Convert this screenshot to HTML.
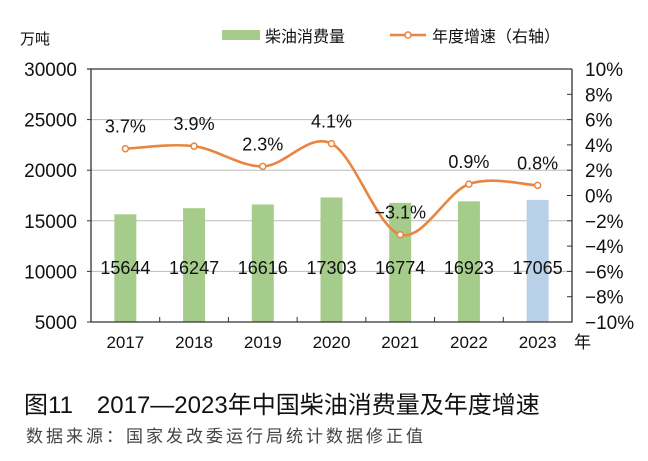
<!DOCTYPE html>
<html><head><meta charset="utf-8"><style>
body{margin:0;background:#fff;font-family:"Liberation Sans","Noto Sans CJK SC",sans-serif}
svg{display:block}
text{font-family:"Liberation Sans","Noto Sans CJK SC",sans-serif}
</style></head><body>
<svg id="c" width="648" height="461">
<text x="20" y="44" font-size="15" fill="#111">万吨</text>
<rect x="222" y="30" width="38" height="10" fill="#a6cc8c"/>
<text x="265" y="42" font-size="16" fill="#111">柴油消费量</text>
<line x1="390" y1="35" x2="426" y2="35" stroke="#e8853f" stroke-width="2.5"/>
<circle cx="408" cy="35" r="3" fill="#fff" stroke="#e8853f" stroke-width="1.5"/>
<text x="432" y="42" font-size="16" fill="#111">年度增速（右轴）</text>
<g id="g"></g>
<text x="24" y="413" font-size="24" fill="#111">图11　2017—2023年中国柴油消费量及年度增速</text>
<text x="26" y="442" font-size="17" letter-spacing="3" fill="#444">数据来源：国家发改委运行局统计数据修正值</text>
</svg>
<script>
const years=["2017","2018","2019","2020","2021","2022","2023"];
const volumes=[15644,16247,16616,17303,16774,16923,17065];
const growth=[3.7,3.9,2.3,4.1,-3.1,0.9,0.8];
const leftTicks=[5000,10000,15000,20000,25000,30000];
const rightTicks=[-10,-8,-6,-4,-2,0,2,4,6,8,10];
const NS="http://www.w3.org/2000/svg",g=document.getElementById('g');
const X0=91,X1=572,Y0=322,Y1=69,bw=(X1-X0)/years.length;
const yL=v=>Y0-(v-5000)/25000*(Y0-Y1);
const yR=v=>Y0-(v+10)/20*(Y0-Y1);
const xC=i=>X0+bw*(i+0.5);
function el(t,a,txt){const e=document.createElementNS(NS,t);for(const k in a)e.setAttribute(k,a[k]);if(txt!=null)e.textContent=txt;g.appendChild(e);return e;}
leftTicks.forEach(v=>{
 if(v>5000){const l=el('line',{x1:X0,x2:X1,y1:yL(v),y2:yL(v),stroke:'#bbb','stroke-width':1});
 
 }
 el('line',{x1:X0-4,x2:X0,y1:yL(v),y2:yL(v),stroke:'#333'});
 const t=el('text',{x:X0-14,y:yL(v)+7,'font-size':19,'text-anchor':'end',fill:'#111'},v);
 
 
});
rightTicks.forEach(v=>{
 el('line',{x1:X1-5,x2:X1,y1:yR(v),y2:yR(v),stroke:'#333'});
 const lab=(v<0?'−'+(-v):v)+'%';
 const t=el('text',{x:X1+13,y:yR(v)+7,'font-size':19,fill:'#111'},lab);
 
 
});
years.forEach((y,i)=>{
 const r=el('rect',{x:xC(i)-11,y:yL(volumes[i]),width:22,height:Y0-yL(volumes[i]),fill:i==6?'#b8d0e8':'#a6cc8c'});
 
 
 const t=el('text',{x:xC(i),y:274,'font-size':18,'text-anchor':'middle',fill:'#111'},volumes[i]);
 
 
 const xl=el('text',{x:xC(i),y:348,'font-size':17,'text-anchor':'middle',fill:'#111'},y);
 
 
 if(i>0)el('line',{x1:X0+bw*i,x2:X0+bw*i,y1:Y0,y2:Y0-5,stroke:'#333'});
});
const yu=el('text',{x:X1+2,y:348,'font-size':17,fill:'#111'},'年');


const ax=el('path',{d:`M${X0} ${Y1}V${Y0}H${X1}V${Y1}M${X0-4} ${Y1}H${X1}`,fill:'none',stroke:'#333','stroke-width':1.3});


const P=growth.map((v,i)=>[xC(i),yR(v)]);
let d=`M${P[0][0]} ${P[0][1]}`;
for(let i=0;i<P.length-1;i++){const p0=P[Math.max(i-1,0)],p1=P[i],p2=P[i+1],p3=P[Math.min(i+2,P.length-1)];
 d+=`C${p1[0]+(p2[0]-p0[0])/6} ${p1[1]+(p2[1]-p0[1])/6} ${p2[0]-(p3[0]-p1[0])/6} ${p2[1]-(p3[1]-p1[1])/6} ${p2[0]} ${p2[1]}`;}
const ln=el('path',{d,fill:'none',stroke:'#e8853f','stroke-width':2.6});


P.forEach((p,i)=>{
 const c=el('circle',{cx:p[0],cy:p[1],r:3,fill:'#fff',stroke:'#e8853f','stroke-width':1.5});
 
 
 const v=growth[i];
 const t=el('text',{x:p[0],y:p[1]-16,'font-size':18,'text-anchor':'middle',fill:'#111'},(v<0?'−'+(-v).toFixed(1):v.toFixed(1))+'%');
 
 
});
</script>
</body></html>
